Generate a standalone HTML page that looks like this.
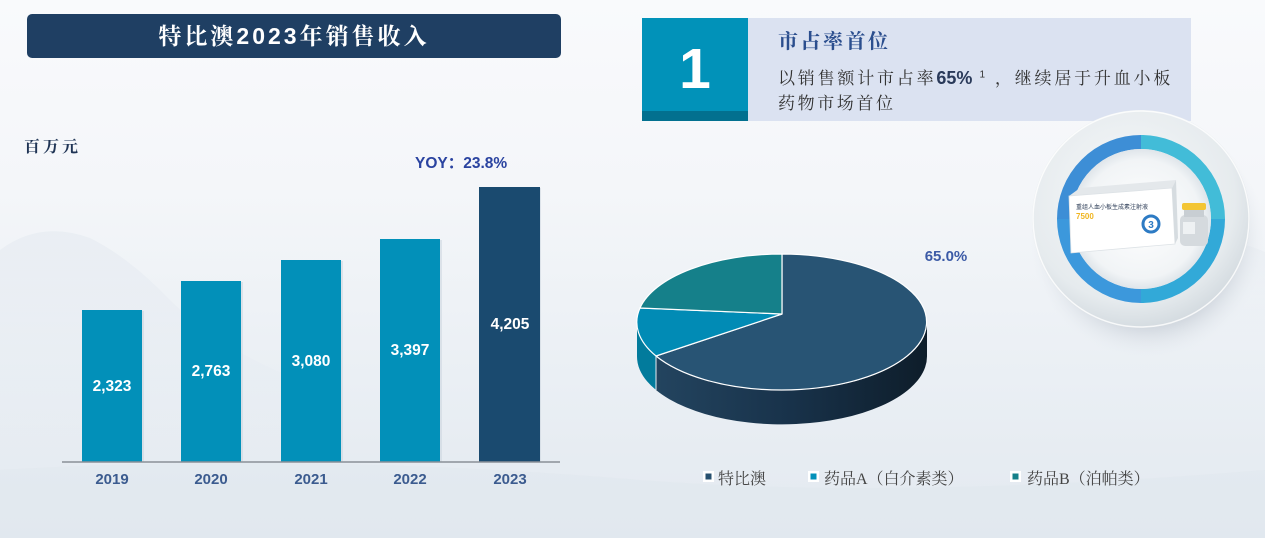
<!DOCTYPE html>
<html><head><meta charset="utf-8">
<style>
html,body{margin:0;padding:0;}
body{width:1265px;height:538px;overflow:hidden;position:relative;
background:linear-gradient(180deg,#f9fafc 0%,#f4f6f9 35%,#eaeff4 70%,#e3e9f0 100%);
font-family:"Liberation Sans","Noto Sans CJK SC",sans-serif;}
svg{position:absolute;left:0;top:0;}
.t{position:absolute;white-space:nowrap;}
</style></head><body>
<svg width="1265" height="538" viewBox="0 0 1265 538">
<defs>
<linearGradient id="mtn" x1="0" y1="0" x2="0" y2="1">
<stop offset="0" stop-color="#dde4ec" stop-opacity="0.7"/>
<stop offset="1" stop-color="#e8edf3" stop-opacity="0"/>
</linearGradient>
<linearGradient id="mtnR" x1="0" y1="0" x2="0" y2="1">
<stop offset="0" stop-color="#e2e8ee" stop-opacity="0.6"/>
<stop offset="1" stop-color="#eef2f6" stop-opacity="0"/>
</linearGradient>
<linearGradient id="sideD" x1="0" y1="0" x2="1" y2="0">
<stop offset="0" stop-color="#23445f"/>
<stop offset="0.5" stop-color="#18324a"/>
<stop offset="1" stop-color="#0e1d2a"/>
</linearGradient>
<radialGradient id="shadow" cx="0.5" cy="0.5" r="0.5">
<stop offset="0" stop-color="#a9b2bd" stop-opacity="0.9"/>
<stop offset="0.75" stop-color="#c3cad3" stop-opacity="0.6"/>
<stop offset="1" stop-color="#e5eaef" stop-opacity="0"/>
</radialGradient>
<radialGradient id="outer" cx="0.45" cy="0.4" r="0.6">
<stop offset="0" stop-color="#f7f9fa"/>
<stop offset="0.8" stop-color="#e6ebee"/>
<stop offset="1" stop-color="#d5dce1"/>
</radialGradient>
<radialGradient id="inner" cx="0.5" cy="0.5" r="0.5">
<stop offset="0" stop-color="#ffffff"/>
<stop offset="0.85" stop-color="#f1f4f6"/>
<stop offset="1" stop-color="#dfe5ea"/>
</radialGradient>
</defs>
<!-- faint mountains -->
<path d="M0 250 Q40 220 90 238 Q130 258 170 300 Q220 350 300 380 L300 538 L0 538 Z" fill="url(#mtn)" opacity="0.55"/>
<path d="M1080 290 Q1140 245 1190 240 Q1235 238 1265 252 L1265 380 L1080 380 Z" fill="url(#mtnR)" opacity="0.6"/>
<path d="M0 470 Q300 452 640 480 Q900 500 1265 470 L1265 538 L0 538 Z" fill="#e0e7ee" opacity="0.5"/>

<!-- title box -->
<rect x="27" y="14" width="534" height="44" rx="5" fill="#1f3f63"/>

<!-- bars -->
<g>
<rect x="84" y="311" width="60" height="151" fill="#c8d2dc" opacity="0.5"/>
<rect x="82" y="310" width="60" height="152" fill="#0290b9"/>
<rect x="183" y="282" width="60" height="180" fill="#c8d2dc" opacity="0.5"/>
<rect x="181" y="281" width="60" height="181" fill="#0290b9"/>
<rect x="283" y="261" width="60" height="201" fill="#c8d2dc" opacity="0.5"/>
<rect x="281" y="260" width="60" height="202" fill="#0290b9"/>
<rect x="382" y="240" width="60" height="222" fill="#c8d2dc" opacity="0.5"/>
<rect x="380" y="239" width="60" height="223" fill="#0290b9"/>
<rect x="481" y="188" width="60" height="274" fill="#c8d2dc" opacity="0.5"/>
<rect x="479" y="187" width="61" height="275" fill="#1a4a6f"/>
<line x1="62" y1="462" x2="560" y2="462" stroke="#8a9097" stroke-width="1.5"/>
</g>
<g font-family="Liberation Sans, sans-serif" font-weight="bold" font-size="15.5" fill="#ffffff" text-anchor="middle">
<text x="112" y="391">2,323</text>
<text x="211" y="376">2,763</text>
<text x="311" y="366">3,080</text>
<text x="410" y="355">3,397</text>
<text x="510" y="329">4,205</text>
</g>
<g font-family="Liberation Sans, sans-serif" font-weight="bold" font-size="15" fill="#3b5b8f" text-anchor="middle">
<text x="112" y="484">2019</text>
<text x="211" y="484">2020</text>
<text x="311" y="484">2021</text>
<text x="410" y="484">2022</text>
<text x="510" y="484">2023</text>
</g>

<!-- product circle shadow -->
<rect x="1030" y="118" width="235" height="240" fill="url(#shadow)"/>

<!-- right header box -->
<rect x="748" y="18" width="443" height="103" fill="#dbe2f1"/>
<rect x="642" y="18" width="106" height="103" fill="#0192b9"/>
<rect x="642" y="111" width="106" height="10" fill="#02708f"/>
<text x="695" y="88" font-family="Liberation Sans, sans-serif" font-weight="bold" font-size="57" fill="#ffffff" text-anchor="middle">1</text>

<circle cx="1141" cy="219" r="109" fill="url(#outer)"/>
<circle cx="1141" cy="219" r="108" fill="none" stroke="#ffffff" stroke-width="1.5" opacity="0.8"/>
<!-- blue ring quadrants -->
<g stroke-width="14" fill="none">
<path d="M1141 142 A77 77 0 0 1 1218 219" stroke="#42bcd8"/>
<path d="M1218 219 A77 77 0 0 1 1141 296" stroke="#32a9d8"/>
<path d="M1141 296 A77 77 0 0 1 1064 219" stroke="#3c98dc"/>
<path d="M1064 219 A77 77 0 0 1 1141 142" stroke="#3d8ed6"/>
</g>
<circle cx="1141" cy="219" r="70" fill="url(#inner)"/>
<!-- product box -->
<polygon points="1069,196 1080,188 1176,180 1172,188" fill="#e4e8eb"/>
<polygon points="1069,196 1172,188 1175,244 1071,253" fill="#ffffff" stroke="#dde2e6" stroke-width="0.8"/>
<polygon points="1172,188 1176,180 1178,238 1175,244" fill="#d6dce0"/>
<text x="1076" y="209" font-family="Liberation Sans, Noto Sans CJK SC, sans-serif" font-size="6" fill="#2b3b55">重组人血小板生成素注射液</text>
<text x="1076" y="219" font-family="Liberation Sans, sans-serif" font-weight="bold" font-size="8" fill="#f0b520">7500</text>
<circle cx="1151" cy="224" r="8" fill="none" stroke="#2d7bc4" stroke-width="3"/>
<text x="1151" y="228" font-family="Liberation Sans, sans-serif" font-weight="bold" font-size="10" fill="#2d7bc4" text-anchor="middle">3</text>
<!-- vial -->
<rect x="1180" y="215" width="28" height="31" rx="5" fill="#d5dade"/>
<rect x="1184" y="209" width="20" height="8" fill="#c8ced3"/>
<rect x="1182" y="203" width="24" height="7" rx="2" fill="#f3c534"/>
<rect x="1183" y="222" width="12" height="12" fill="#eef1f3"/>

<!-- pie: sides -->
<path d="M927 322 A145 68 0 0 1 656 356 L656 390 A145 68 0 0 0 927 356 Z" fill="url(#sideD)"/>
<path d="M656 356 A145 68 0 0 1 637 322 L637 356 A145 68 0 0 0 656 390 Z" fill="#027b9c"/>
<line x1="656" y1="356" x2="656" y2="390" stroke="#e8eef3" stroke-width="1"/>
<!-- pie: top -->
<path d="M782 314 L782 254 A145 68 0 1 1 656 356 Z" fill="#285474" stroke="#ffffff" stroke-width="1.2" stroke-linejoin="round"/>
<path d="M782 314 L656 356 A145 68 0 0 1 640 308 Z" fill="#018bb5" stroke="#ffffff" stroke-width="1.2" stroke-linejoin="round"/>
<path d="M782 314 L640 308 A145 68 0 0 1 782 254 Z" fill="#15808a" stroke="#ffffff" stroke-width="1.2" stroke-linejoin="round"/>
<text x="946" y="261" font-family="Liberation Sans, sans-serif" font-weight="bold" font-size="15" fill="#3b5aa6" text-anchor="middle">65.0%</text>

<!-- legend squares -->
<rect x="703" y="471" width="11" height="11" fill="#ffffff"/>
<rect x="705.5" y="473.5" width="6" height="6" fill="#27506f"/>
<rect x="808" y="471" width="11" height="11" fill="#ffffff"/>
<rect x="810.5" y="473.5" width="6" height="6" fill="#0290b9"/>
<rect x="1010" y="471" width="11" height="11" fill="#ffffff"/>
<rect x="1012.5" y="473.5" width="6" height="6" fill="#15808a"/>
</svg>

<div class="t" style="left:27px;top:14px;width:534px;height:44px;line-height:44px;text-align:center;color:#fff;font-size:23px;font-weight:bold;letter-spacing:3px;font-family:'Liberation Sans','Noto Serif CJK SC',serif;">特比澳2023年销售收入</div>
<div class="t" style="left:24px;top:134px;font-size:16px;font-weight:bold;color:#1f3455;letter-spacing:3px;font-family:'Liberation Serif','Noto Serif CJK SC',serif;">百万元</div>
<div class="t" style="left:415px;top:151px;font-size:15.5px;font-weight:bold;color:#2a43a0;font-family:'Liberation Sans','Noto Sans CJK SC',sans-serif;">YOY：23.8%</div>

<div class="t" style="left:778px;top:25px;font-size:20px;font-weight:bold;color:#2b4e8e;letter-spacing:2.5px;font-family:'Liberation Serif','Noto Serif CJK SC',serif;">市占率首位</div>
<div class="t" style="left:778px;top:64px;font-size:17px;color:#333;letter-spacing:2.8px;font-family:'Liberation Serif','Noto Serif CJK SC',serif;">以销售额计市占率<b style="font-family:'Liberation Sans',sans-serif;font-size:18px;letter-spacing:0;color:#2a3a5a;">65%</b> <sup style="font-family:'Liberation Sans',sans-serif;font-size:10px;">1</sup> ，继续居于升血小板</div>
<div class="t" style="left:778px;top:89px;font-size:17px;color:#333;letter-spacing:2.6px;font-family:'Liberation Serif','Noto Serif CJK SC',serif;">药物市场首位</div>

<div class="t" style="left:718px;top:466px;font-size:16px;color:#444;font-family:'Liberation Serif','Noto Serif CJK SC',serif;">特比澳</div>
<div class="t" style="left:824px;top:466px;font-size:16px;color:#444;font-family:'Liberation Serif','Noto Serif CJK SC',serif;">药品A（白介素类）</div>
<div class="t" style="left:1027px;top:466px;font-size:16px;color:#444;font-family:'Liberation Serif','Noto Serif CJK SC',serif;">药品B（泊帕类）</div>
</body></html>
